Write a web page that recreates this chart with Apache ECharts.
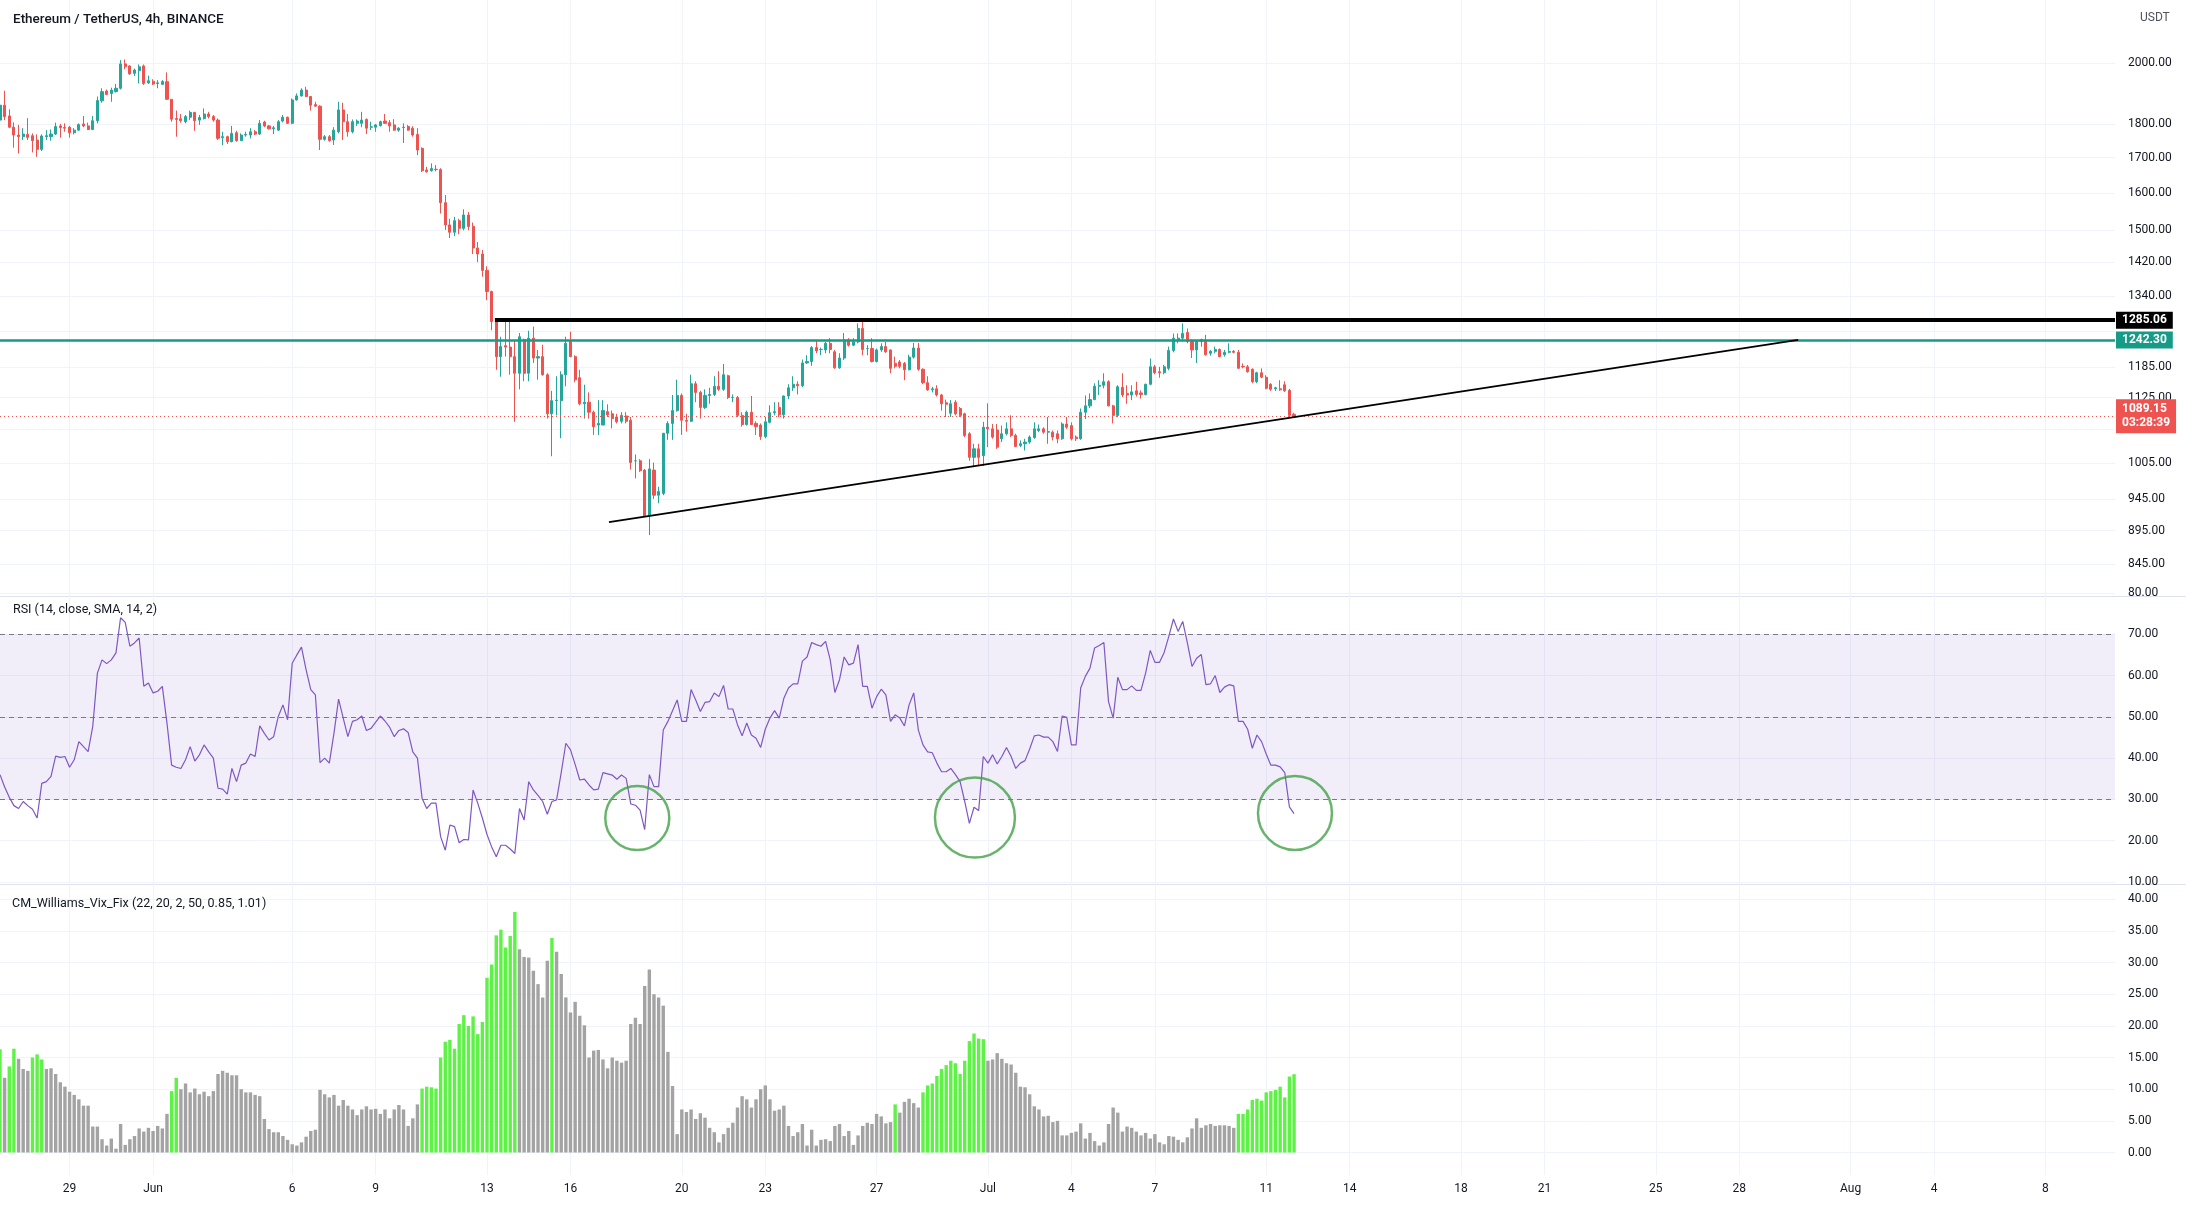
<!DOCTYPE html>
<html><head><meta charset="utf-8">
<script src="https://cdn.jsdelivr.net/npm/echarts/dist/echarts.min.js"></script>
<style>html,body{margin:0;padding:0;background:#fff}#c{width:2186px;height:1205px}</style>
</head><body><div id="c"></div>
<script>
// ---------- DATA ----------
const startTimeUTC = Date.UTC(2022, 4, 26, 12); // first 4h candle: 2022-05-26 12:00
const slotCount = 457; // 4h slots visible on the time scale

const opens = [1813,1860,1826,1791,1767,1762,1769,1765,1752,1724,
1762,1762,1770,1795,1790,1791,1774,1782,1801,1795,
1784,1811,1874,1906,1898,1904,1915,1997,1990,1965,
1974,1990,1933,1938,1931,1928,1937,1879,1818,1817,
1808,1822,1837,1813,1818,1832,1824,1813,1759,1762,
1747,1774,1750,1767,1767,1777,1770,1807,1795,1786,
1782,1810,1822,1803,1877,1890,1909,1888,1862,1857,
1754,1762,1752,1777,1845,1808,1777,1803,1803,1815,
1791,1791,1796,1810,1805,1798,1782,1790,1793,1788,
1769,1727,1664,1662,1666,1665,1573,1514,1495,1525,
1505,1540,1510,1455,1440,1400,1350,1282,1207,1230,
1227,1207,1173,1243,1173,1246,1204,1207,1170,1094,
1119,1119,1170,1239,1207,1164,1113,1116,1097,1073,
1073,1098,1094,1088,1080,1090,1082,1009,1009,993,
918,993,951,954,1058,1076,1100,1129,1082,1080,
1152,1135,1106,1129,1131,1147,1141,1168,1125,1125,
1091,1074,1097,1076,1073,1052,1078,1096,1106,1092,
1128,1144,1151,1148,1194,1197,1226,1222,1221,1235,
1217,1184,1204,1242,1231,1238,1267,1224,1224,1197,
1221,1228,1221,1193,1196,1193,1180,1206,1225,1181,
1154,1140,1142,1130,1115,1095,1116,1104,1094,1057,
1015,1030,1018,1069,1066,1064,1048,1057,1066,1054,
1036,1039,1042,1050,1063,1066,1060,1060,1057,1048,
1075,1072,1051,1048,1097,1109,1121,1147,1149,1156,
1109,1091,1145,1133,1130,1138,1134,1131,1151,1186,
1176,1174,1183,1220,1242,1246,1258,1239,1221,1239,
1242,1214,1218,1222,1211,1216,1218,1216,1187,1186,
1181,1156,1174,1165,1151,1142,1142,1150,1139,1093];

const closes = [1860,1824,1791,1767,1762,1770,1760,1750,1724,1764,
1765,1770,1793,1790,1788,1774,1782,1799,1795,1784,
1811,1875,1904,1895,1909,1915,1997,1987,1963,1976,
1987,1931,1940,1929,1933,1937,1879,1816,1815,1811,
1824,1837,1811,1821,1832,1824,1813,1757,1762,1747,
1772,1750,1767,1769,1777,1770,1803,1795,1786,1789,
1808,1822,1803,1877,1890,1909,1888,1860,1857,1754,
1762,1750,1782,1845,1808,1777,1808,1810,1813,1788,
1792,1798,1808,1803,1795,1782,1788,1791,1782,1767,
1722,1662,1659,1668,1665,1573,1514,1495,1525,1505,
1540,1510,1455,1440,1400,1350,1282,1207,1228,1227,
1207,1173,1249,1173,1246,1204,1207,1170,1094,1119,
1120,1170,1235,1207,1160,1113,1116,1097,1070,1076,
1100,1092,1085,1079,1091,1080,1006,1009,992,918,
995,951,957,1058,1076,1100,1129,1082,1080,1152,
1135,1106,1129,1131,1147,1141,1170,1125,1125,1091,
1074,1097,1074,1070,1052,1079,1096,1098,1092,1128,
1144,1151,1148,1194,1197,1226,1219,1222,1235,1222,
1184,1204,1242,1231,1238,1267,1222,1224,1197,1221,
1228,1217,1183,1187,1187,1180,1206,1225,1181,1154,
1140,1142,1130,1113,1112,1113,1094,1091,1054,1015,
1030,1015,1069,1066,1051,1033,1057,1066,1054,1034,
1039,1042,1051,1066,1066,1060,1061,1051,1048,1075,
1069,1048,1048,1097,1109,1121,1147,1149,1156,1109,
1091,1146,1130,1130,1136,1131,1131,1151,1186,1174,
1174,1186,1220,1246,1246,1256,1239,1221,1239,1243,
1211,1218,1222,1207,1216,1218,1216,1183,1186,1176,
1156,1174,1165,1143,1141,1144,1140,1138,1091,1089.15];

const lows = [1734,1813,1788,1729,1712,1752,1752,1715,1702,1719,
1752,1750,1767,1759,1777,1759,1769,1780,1791,1782,
1782,1803,1868,1892,1871,1901,1911,1979,1960,1956,
1931,1926,1929,1926,1915,1926,1877,1808,1762,1805,
1803,1813,1780,1798,1815,1818,1808,1752,1737,1740,
1745,1747,1750,1762,1757,1767,1767,1791,1784,1770,
1780,1806,1801,1800,1875,1888,1886,1843,1855,1722,
1750,1747,1737,1772,1752,1762,1772,1795,1791,1770,
1782,1777,1793,1801,1777,1780,1777,1743,1780,1762,
1707,1658,1656,1659,1660,1544,1501,1480,1485,1490,
1500,1500,1440,1420,1385,1330,1263,1180,1166,1207,
1170,1079,1141,1157,1157,1194,1160,1168,1085,1017,
1091,1049,1147,1206,1155,1110,1085,1085,1055,1055,
1073,1088,1067,1076,1076,1076,994,979,990,916,
888,945,938,951,1046,1046,1098,1055,1061,1079,
1116,1085,1103,1113,1128,1138,1138,1122,1116,1088,
1070,1072,1073,1055,1046,1049,1076,1091,1088,1085,
1122,1138,1131,1145,1192,1188,1214,1210,1214,1214,
1182,1182,1200,1228,1229,1235,1210,1210,1195,1195,
1217,1215,1173,1183,1183,1159,1179,1203,1178,1151,
1138,1135,1127,1100,1088,1088,1091,1088,1051,1009,
998,1000,1000,1033,1048,1030,1042,1054,1051,1033,
1033,1027,1039,1048,1060,1057,1039,1045,1040,1046,
1066,1045,1044,1046,1084,1105,1120,1130,1143,1108,
1076,1088,1126,1113,1120,1127,1123,1129,1149,1171,
1164,1171,1179,1216,1235,1239,1235,1204,1194,1228,
1209,1209,1214,1206,1207,1214,1214,1183,1183,1174,
1153,1153,1163,1141,1138,1138,1138,1136,1088,1087];

const highs = [1871,1907,1847,1806,1798,1788,1819,1772,1769,1769,
1782,1784,1805,1801,1803,1795,1788,1803,1826,1805,
1826,1888,1915,1911,1917,1929,2010,2012,1992,1981,
1995,1995,1957,1945,1942,1942,1968,1880,1843,1832,
1829,1843,1839,1829,1850,1839,1829,1818,1777,1765,
1795,1780,1772,1777,1788,1782,1813,1811,1798,1795,
1813,1829,1824,1882,1898,1915,1920,1890,1871,1860,
1767,1767,1791,1871,1868,1832,1815,1815,1839,1818,
1808,1801,1811,1832,1813,1816,1791,1803,1798,1794,
1788,1730,1673,1683,1678,1669,1594,1530,1535,1530,
1555,1548,1520,1470,1450,1410,1352,1286,1249,1282,
1282,1242,1257,1245,1262,1271,1221,1232,1173,1138,
1167,1177,1249,1260,1210,1180,1150,1135,1100,1120,
1120,1112,1100,1094,1097,1097,1088,1020,1012,995,
1012,1006,965,1058,1080,1130,1160,1133,1094,1170,
1157,1138,1141,1144,1167,1177,1192,1170,1131,1128,
1097,1100,1128,1080,1076,1088,1110,1116,1116,1129,
1151,1167,1157,1201,1210,1229,1242,1226,1238,1246,
1221,1214,1257,1246,1246,1278,1282,1231,1246,1224,
1235,1238,1222,1207,1200,1196,1211,1236,1236,1183,
1167,1146,1149,1132,1121,1120,1120,1107,1096,1060,
1039,1039,1079,1114,1075,1075,1072,1078,1091,1057,
1045,1048,1054,1078,1074,1069,1088,1063,1063,1078,
1088,1078,1054,1104,1129,1133,1153,1159,1173,1159,
1111,1149,1173,1149,1149,1156,1139,1152,1203,1190,
1186,1190,1228,1256,1256,1278,1267,1243,1242,1245,
1253,1221,1228,1224,1221,1235,1221,1221,1193,1190,
1183,1176,1183,1169,1153,1146,1159,1157,1142,1096];

const rsiValues = [36,33,30.5,28.5,27.8,29.5,28.5,27.6,25.5,33.9,
34.3,35.6,40.5,40.2,40.4,37.8,39.6,44,42.8,41.6,
47.7,60.6,63.8,62.9,63.8,65.5,74,72.9,67.1,67.9,
69.1,57.4,58.2,55.8,56.2,57.4,48.5,38.3,37.8,37.5,
39.6,42.8,39.3,40.8,43.2,41.5,40,32.7,32.5,31.3,
37.5,34.3,38.3,38.8,41,40.4,47.8,46,44.4,45.2,
50.1,52.9,49.3,63,65,66.9,61.4,56.6,55.3,38.9,
40,38.8,46,54.3,49.7,45.2,48.9,49.3,50.2,46.7,
47.2,48.7,50.2,49,47.5,45.2,46.7,47.1,46.2,41.5,
40,30.3,27.8,29.1,29.1,21,17.7,23.8,23.4,19.5,
20.3,20.2,32.3,29.1,25.5,21.5,18.5,16.1,18.9,18.9,
18,16.9,27.8,25,34.3,32.3,31,29.5,26.4,29.5,
29.9,36.5,43.6,42,38.5,34.7,34.9,33.5,32.3,32.5,
36.5,36.2,35.9,34.9,35.9,35.1,28.9,28.6,27.4,22.7,
36,33.1,33.1,46.8,48.9,51.5,54.1,48.9,48.9,56.6,
54.1,51.3,53.5,53.7,55.8,54.9,57.6,51.9,51.9,48.1,
45.4,48.5,45.6,44.8,42.6,47,49.7,51.5,49.7,54.5,
57,58,58,63.5,64.5,68,67.5,67.1,68.3,63.8,
55.9,59,64.5,62.6,63,67.5,57.4,57.4,52.1,54.9,
56.7,55.3,48.9,50.5,49.7,47.8,52.9,55.8,46.8,43.2,
41.5,41.3,38.8,36.7,36.7,37.5,36,34.3,29.5,24.2,
28.1,27.3,40.4,38.8,40.8,38.6,40.4,42.6,40.4,37.5,
38.8,39.4,42.2,45.4,45.6,45.1,45.1,44,41.6,50.2,
49.9,43.2,43.2,57,59.8,61.8,66.7,67.3,68,53.7,
49.7,59.6,56.6,56.6,57.5,56.4,56.4,60.6,66.1,63.2,
63.2,65.6,69.5,73.7,70.7,73.1,67.9,62.2,64.2,65.1,
57.8,58,60,55.9,57.2,57.8,57.5,48.9,48.9,47,
42.4,45.6,44,41,38.3,38.3,37.9,36.5,28.2,26.58];

const vixValues = [16.3,11.8,13.6,16.4,14.8,13.2,12.9,15,15.5,14.7,
13.2,13.3,12.4,11.1,10.4,9.6,9.1,8.4,7.4,7.4,
4.1,4.1,2.1,1.1,2.2,0.6,4.5,1.2,2.1,2.6,
3.8,3.3,3.9,3.4,4.2,3.8,6.1,9.7,11.8,10,
10.9,9.5,10.1,9.2,9.6,8.9,9.7,12.4,12.9,12.6,
12.2,12.2,10,9.5,9.5,9.1,8.9,5.3,3.7,3.2,
3.2,2.6,2,1.3,1.1,1.6,2.5,3.4,3.6,9.9,
9.2,8.7,9.1,7.4,8.3,7.4,6.8,5.9,6.8,7.3,
6.8,6.9,6.1,6.8,5.4,6.8,7.5,6.8,4.2,5.4,
7.6,10.1,10.4,10.3,10.1,15,17.5,17.8,16.4,20.3,
21.7,20,21.5,18.7,20.6,27.6,29.7,34.3,35.2,32.4,
34.2,38,32.1,30.9,30.8,28.7,26.6,24.5,30.3,33.9,
31.7,28.2,24.5,22.1,23.8,21.6,20.1,15,16.1,16.2,
14.7,13.3,15,14.5,14.2,14.5,20.3,21.3,20.3,26.3,
28.9,25,24.5,23.2,15.9,10.5,2.9,6.8,6.4,6.8,
5.3,6.2,5.5,3.9,3.2,1.6,2.9,3.9,4.7,7.1,
8.9,8.4,7.1,8.4,10,10.6,8.4,6.6,6.8,7.4,
4.2,2.6,3.2,4.5,1.1,3.6,1.1,2,2.1,1.8,
4.2,4.5,2.6,3.4,1.2,2.7,4.2,4.7,4.5,6.1,
5.7,4.6,4.8,7.6,6.3,8,8.5,7.8,7.1,9.5,
10.6,10.9,12.1,13.2,13.8,14.5,14.1,12.4,14.5,17.6,
18.8,18,17.9,14.5,14.7,15.7,14.8,14.1,13.9,12.6,
10.4,10.3,9.2,7.3,6.8,5.7,5.8,4.8,5,2.7,
2.7,3.1,3.3,4.6,2.2,3.1,1.8,1.1,1.6,4.5,
7.1,6.3,3.3,4.1,3.9,3.3,2.7,3.1,2.2,2.9,
1.6,1.3,2.6,2.5,2,1.6,2.4,3.8,5.4,3.9,
4.3,4.5,4.2,4.3,4.3,4.2,3.9,6.1,6.1,6.8,
8.3,8.5,8.2,9.5,9.7,9.9,10.4,8.7,12,12.37];

// bar index ranges where the Vix Fix signal is on (drawn lime)
const vixSignalRanges = [[0,0],[2,3],[7,9],[37,38],[91,111],[119,119],[193,193],[199,212],[267,279]];

const priceTicks = [2000,1800,1700,1600,1500,1420,1340,1185,1125,1005,945,895,845];
const priceGridOnly = [1260,1065];
const rsiBands = [70,50,30];
const xTickDates = ['2022-05-29','2022-06-01','2022-06-06','2022-06-09','2022-06-13','2022-06-16','2022-06-20','2022-06-23','2022-06-27','2022-07-01','2022-07-04','2022-07-07','2022-07-11','2022-07-14','2022-07-18','2022-07-21','2022-07-25','2022-07-28','2022-08-01','2022-08-04','2022-08-08'];

const resistanceLevel = 1285.06;
const resistanceStartIndex = 106.7;
const supportLevel = 1242.30;
const lastClose = 1089.15;
const countdown = '03:28:39';
const trendLine = [[131.3, 908], [387.7, 1242.3]];       // [slot index, price]
const rsiCircles = [[137.4, 25.5], [210.2, 25.6], [279.2, 26.7]]; // [slot index, RSI]

// ---------- BUILD ----------
const categories = [];
for (let k = 0; k < slotCount; k++) {
  categories.push(new Date(startTimeUTC + k * 4 * 3600e3).toISOString().slice(0, 13));
}
const monthNames = ['Jan','Feb','Mar','Apr','May','Jun','Jul','Aug','Sep','Oct','Nov','Dec'];
const tickLabel = {};
xTickDates.forEach(s => {
  const d = new Date(s + 'T00:00:00Z');
  tickLabel[s + 'T00'] = d.getUTCDate() === 1 ? monthNames[d.getUTCMonth()] : String(d.getUTCDate());
});
const isTick = (idx, val) => tickLabel[val] !== undefined;
const isSignal = i => vixSignalRanges.some(r => i >= r[0] && i <= r[1]);
const candleData = opens.map((o, i) => [o, closes[i], lows[i], highs[i]]);
const rsiLast = rsiValues[rsiValues.length - 1];
const vixLast = vixValues[vixValues.length - 1];

const UP = '#26a69a', DOWN = '#ef5350', TEAL = '#159b86', TXT = '#131722', GRIDC = '#f0f3fa';
const FONT = 'Roboto, "Liberation Sans", Arial, sans-serif';
const circleSizes = [64, 80, 74];
const tag = (bg, fg, text) => ({
  show: true, position: 'end', distance: 1, formatter: () => text,
  backgroundColor: bg, color: fg, fontSize: 12, fontFamily: FONT, fontWeight: 'bold',
  padding: [2, 6, 2, 6], lineHeight: 13
});

const chart = echarts.init(document.getElementById('c'));
const hiddenCat = gi => ({ type: 'category', gridIndex: gi, data: categories, boundaryGap: false, show: false });
const hiddenVal = gi => ({ type: 'value', gridIndex: gi, min: 0, max: slotCount - 1, show: false });

chart.setOption({
  animation: false,
  backgroundColor: '#ffffff',
  textStyle: { fontFamily: FONT },
  title: [
    { text: 'Ethereum / TetherUS, 4h, BINANCE', left: 8, top: 8, textStyle: { fontSize: 13.5, fontWeight: 500, color: TXT, fontFamily: FONT } },
    { text: 'RSI (14, close, SMA, 14, 2)', left: 8, top: 598, textStyle: { fontSize: 12.5, fontWeight: 'normal', color: TXT, fontFamily: FONT } },
    { text: 'CM_Williams_Vix_Fix (22, 20, 2, 50, 0.85, 1.01)', left: 7, top: 892, textStyle: { fontSize: 12.5, fontWeight: 'normal', color: TXT, fontFamily: FONT } },
    { text: 'USDT', left: 2135, top: 7, textStyle: { fontSize: 12, fontWeight: 'normal', color: '#50535e', fontFamily: FONT } }
  ],
  grid: [
    { left: 0, right: 71, top: 0, height: 593 },
    { left: 0, right: 71, top: 593, height: 289 },
    { left: 0, right: 71, top: 899.3, height: 253.2 },
    { left: 0, right: 71, top: 0, height: 1175 }
  ],
  xAxis: [
    hiddenCat(0), hiddenVal(0), hiddenCat(1), hiddenVal(1), hiddenCat(2),
    {
      type: 'category', gridIndex: 3, data: categories, boundaryGap: false,
      axisLine: { show: false }, axisTick: { show: false },
      splitLine: { show: true, interval: isTick, lineStyle: { color: GRIDC, width: 1 } },
      axisLabel: { interval: isTick, formatter: v => tickLabel[v] || '', color: TXT, fontSize: 12, margin: 8, fontFamily: FONT }
    }
  ],
  yAxis: [
    { type: 'log', logBase: 10, gridIndex: 0, min: 803.8, max: 2229, show: false },
    {
      type: 'value', gridIndex: 1, min: 10, max: 80, interval: 10, position: 'right',
      axisLine: { show: false }, axisTick: { show: false },
      splitLine: { lineStyle: { color: GRIDC } },
      axisLabel: { color: TXT, fontSize: 12, margin: 13, formatter: v => v.toFixed(2), fontFamily: FONT }
    },
    {
      type: 'value', gridIndex: 2, min: 0, max: 40, interval: 5, position: 'right',
      axisLine: { show: false }, axisTick: { show: false },
      splitLine: { lineStyle: { color: GRIDC } },
      axisLabel: { color: TXT, fontSize: 12, margin: 13, formatter: v => v.toFixed(2), fontFamily: FONT }
    },
    { type: 'value', gridIndex: 3, min: 0, max: 1, show: false }
  ],
  series: [
    { // price scale grid lines + tick labels (kept beneath every mark)
      type: 'line', xAxisIndex: 1, yAxisIndex: 0, data: [[0, 1000]], showSymbol: false, silent: true, z: 0, zlevel: 0,
      lineStyle: { opacity: 0 },
      markLine: {
        z: 0,
        symbol: 'none', silent: true,
        lineStyle: { color: GRIDC, width: 1, type: 'solid' },
        label: { position: 'end', distance: 13, color: TXT, fontSize: 12, fontFamily: FONT, formatter: p => Number(p.value).toFixed(2) },
        data: priceTicks.map(v => ({ yAxis: v })).concat(priceGridOnly.map(v => ({ yAxis: v, label: { show: false } })))
      }
    },
    {
      type: 'candlestick', xAxisIndex: 0, yAxisIndex: 0, data: candleData, barWidth: 2.6, z: 3,
      itemStyle: { color: UP, color0: DOWN, borderColor: UP, borderColor0: DOWN, borderWidth: 1 }
    },
    { // trend line and horizontal levels
      type: 'line', xAxisIndex: 1, yAxisIndex: 0, data: trendLine, showSymbol: false, silent: true, z: 6,
      lineStyle: { color: '#000000', width: 2 },
      markLine: {
        z: 6,
        symbol: 'none', silent: true,
        data: [
          [
            { coord: [resistanceStartIndex, resistanceLevel], lineStyle: { color: '#000000', width: 4, type: 'solid' }, label: tag('#000000', '#ffffff', resistanceLevel.toFixed(2)) },
            { coord: [slotCount - 1, resistanceLevel], lineStyle: { color: '#000000', width: 4, type: 'solid' }, label: tag('#000000', '#ffffff', resistanceLevel.toFixed(2)) }
          ],
          { yAxis: supportLevel, lineStyle: { color: TEAL, width: 2.5, type: 'solid' }, label: tag(TEAL, '#ffffff', supportLevel.toFixed(2)) },
          { yAxis: lastClose, lineStyle: { color: DOWN, width: 1, type: [1, 3] },
            label: Object.assign(tag(DOWN, '#ffffff', lastClose.toFixed(2) + '\n' + countdown), { padding: [3, 6, 3, 6], lineHeight: 14 }) }
        ]
      }
    },
    {
      type: 'line', xAxisIndex: 2, yAxisIndex: 1, data: rsiValues, showSymbol: false, silent: true, z: 3,
      lineStyle: { color: '#7e57c2', width: 1.2 },
      markArea: { silent: true, z: 1, itemStyle: { color: 'rgba(126,87,194,0.1)' }, data: [[{ yAxis: 30 }, { yAxis: 70 }]] },
      markLine: {
        z: 2,
        symbol: 'none', silent: true,
        lineStyle: { color: '#787b86', width: 1, type: [5, 4] },
        label: { show: false },
        data: rsiBands.map(v => ({ yAxis: v })).concat([
          { yAxis: rsiLast, lineStyle: { opacity: 0 }, label: tag('#7e57c2', '#ffffff', rsiLast.toFixed(2)) }
        ])
      }
    },
    {
      type: 'scatter', xAxisIndex: 3, yAxisIndex: 1, data: rsiCircles, silent: true, z: 5,
      symbol: 'circle', symbolSize: (v, p) => circleSizes[p.dataIndex],
      itemStyle: { color: 'rgba(0,0,0,0)', borderColor: '#43a047', borderWidth: 2.5 }
    },
    {
      type: 'bar', xAxisIndex: 4, yAxisIndex: 2, data: vixValues, barWidth: 3.4, silent: true, z: 3,
      itemStyle: { color: p => isSignal(p.dataIndex) ? '#5ef146' : '#a3a3a3' },
      markLine: {
        symbol: 'none', silent: true,
        data: [{ yAxis: vixLast, lineStyle: { opacity: 0 }, label: tag('#00f000', TXT, vixLast.toFixed(2)) }]
      }
    }
  ],
  graphic: [
    { type: 'rect', shape: { x: 0, y: 596, width: 2186, height: 1 }, style: { fill: '#e0e3eb' }, silent: true },
    { type: 'rect', shape: { x: 0, y: 884, width: 2186, height: 1 }, style: { fill: '#e0e3eb' }, silent: true }
  ]
});
</script>
</body></html>
